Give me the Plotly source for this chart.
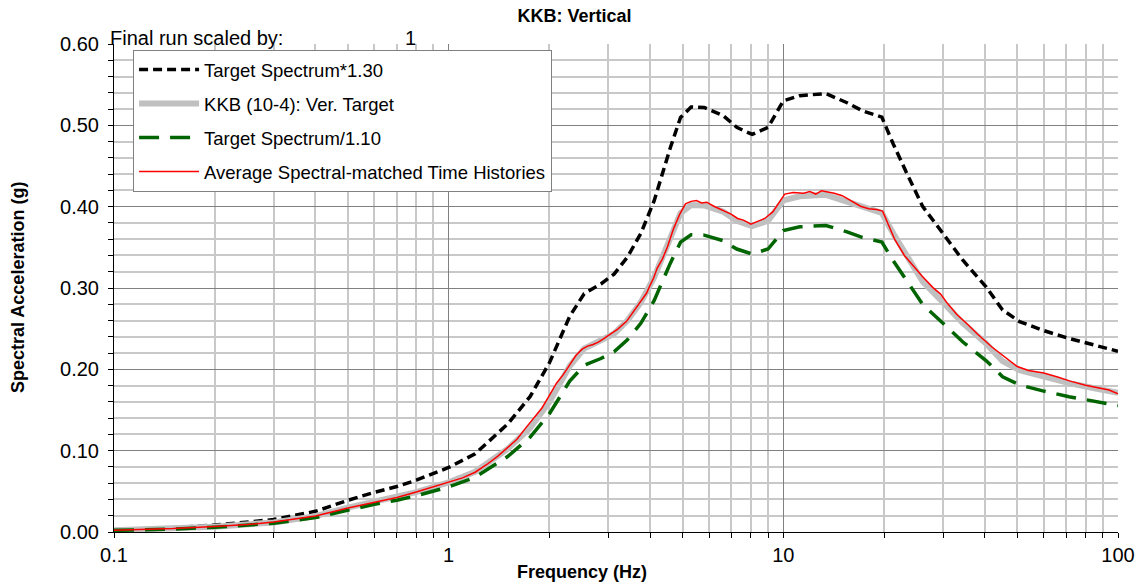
import plotly.graph_objects as go

# ---- data ----
target_freq = [0.1, 0.15, 0.2, 0.3, 0.4, 0.5, 0.6, 0.7, 0.8, 1.0, 1.2, 1.5, 1.75, 2.0, 2.3, 2.54,
               2.85, 3.12, 3.42, 3.75, 4.11, 4.6, 4.93, 5.3, 5.8, 6.6, 7.26, 8.07, 9.0, 10.0,
               11.2, 13.4, 15.5, 17.2, 19.7, 21.3, 23.4, 26.1, 30.0, 34.4, 40.4, 45.2, 50.8,
               59.6, 71.4, 85.8, 100.0]
target_vals = [0.0022, 0.0040, 0.0065, 0.0118, 0.0195, 0.0300, 0.0375, 0.0430, 0.0490, 0.0610,
               0.0740, 0.1020, 0.1280, 0.1600, 0.2040, 0.2254, 0.2346, 0.2438, 0.2600, 0.2823,
               0.3130, 0.3640, 0.3920, 0.4020, 0.4015, 0.3940, 0.3827, 0.3760, 0.3827, 0.4077,
               0.4127, 0.4146, 0.4060, 0.3985, 0.3923, 0.3670, 0.3390, 0.3077, 0.2823, 0.2570,
               0.2315, 0.2100, 0.1990, 0.1908, 0.1830, 0.1765, 0.1710]
upper_vals = [0.0029, 0.0052, 0.0085, 0.0153, 0.0254, 0.0390, 0.0488, 0.0559, 0.0637, 0.0793,
              0.0962, 0.1326, 0.1664, 0.2080, 0.2652, 0.2930, 0.3050, 0.3170, 0.3380, 0.3670,
              0.4070, 0.4730, 0.5096, 0.5226, 0.5220, 0.5122, 0.4975, 0.4888, 0.4975, 0.5300,
              0.5365, 0.5390, 0.5278, 0.5180, 0.5100, 0.4771, 0.4407, 0.4000, 0.3670, 0.3341,
              0.3010, 0.2730, 0.2587, 0.2480, 0.2379, 0.2295, 0.2223]
lower_vals = [0.0020, 0.0036, 0.0059, 0.0107, 0.0177, 0.0273, 0.0341, 0.0391, 0.0445, 0.0555,
              0.0673, 0.0927, 0.1164, 0.1455, 0.1855, 0.2049, 0.2133, 0.2216, 0.2364, 0.2566,
              0.2845, 0.3309, 0.3564, 0.3655, 0.3650, 0.3582, 0.3479, 0.3418, 0.3479, 0.3706,
              0.3752, 0.3769, 0.3691, 0.3623, 0.3566, 0.3336, 0.3082, 0.2797, 0.2566, 0.2336,
              0.2105, 0.1909, 0.1809, 0.1735, 0.1664, 0.1605, 0.1555]

avg_freq = [0.1, 0.15, 0.2, 0.25, 0.3, 0.4, 0.5, 0.6, 0.7, 0.8, 0.9, 1.0, 1.1, 1.2, 1.3, 1.4,
            1.5, 1.6, 1.7, 1.8, 1.9, 2.0, 2.1, 2.2, 2.3, 2.4, 2.5, 2.6, 2.7, 2.8, 2.9, 3.0,
            3.2, 3.4, 3.6, 3.8, 3.9, 4.0, 4.1, 4.2, 4.35, 4.5, 4.7, 4.9, 5.1, 5.3, 5.5, 5.7,
            5.9, 6.2, 6.6, 7.0, 7.3, 7.6, 8.0, 8.3, 8.8, 9.3, 9.7, 10.1, 10.7, 11.5, 12.0,
            12.5, 13.0, 13.5, 14.2, 15.0, 16.0, 17.0, 18.0, 19.0, 19.8, 20.5, 21.5, 23.0,
            24.5, 26.0, 28.0, 29.5, 31.0, 33.0, 35.5, 38.0, 42.0, 46.0, 50.0, 54.0, 60.0,
            66.0, 72.0, 80.0, 88.0, 94.0, 100.0]
avg_vals = [0.0022, 0.0042, 0.0068, 0.0092, 0.0122, 0.0198, 0.0295, 0.0368, 0.0425, 0.0492,
            0.0555, 0.0615, 0.0665, 0.0735, 0.0830, 0.0930, 0.1035, 0.1140, 0.1280, 0.1410,
            0.1525, 0.1680, 0.1830, 0.1935, 0.2050, 0.2170, 0.2245, 0.2285, 0.2305, 0.2335,
            0.2375, 0.2415, 0.2495, 0.2590, 0.2735, 0.2865, 0.2935, 0.3035, 0.3125, 0.3245,
            0.3355, 0.3500, 0.3730, 0.3905, 0.4035, 0.4065, 0.4075, 0.4045, 0.4055, 0.4005,
            0.3955, 0.3905, 0.3855, 0.3835, 0.3785, 0.3815, 0.3855, 0.3935, 0.4055, 0.4155,
            0.4175, 0.4165, 0.4185, 0.4155, 0.4195, 0.4185, 0.4165, 0.4135, 0.4065, 0.4005,
            0.3975, 0.3965, 0.3945, 0.3805, 0.3600, 0.3400, 0.3265, 0.3145, 0.3005, 0.2925,
            0.2805, 0.2675, 0.2555, 0.2435, 0.2275, 0.2145, 0.2035, 0.1985, 0.1955, 0.1905,
            0.1855, 0.1805, 0.1765, 0.1745, 0.1700]

names = ["Target Spectrum*1.30", "KKB (10-4): Ver. Target", "Target Spectrum/1.10",
         "Average Spectral-matched Time Histories"]
title_text = "KKB: Vertical"
scale_label = "Final run scaled by:"
scale_value = "1"

FONT = "Liberation Sans, Arial, sans-serif"

fig = go.Figure()
fig.add_trace(go.Scatter(x=target_freq, y=upper_vals, mode="lines", name=names[0],
                         line=dict(color="black", width=3.5, dash="9px,5px"),
                         legendgroup="a"))
fig.add_trace(go.Scatter(x=target_freq, y=target_vals, mode="lines", name=names[1],
                         line=dict(color="#c0c0c0", width=6), legendgroup="b"))
fig.add_trace(go.Scatter(x=target_freq, y=lower_vals, mode="lines", name=names[2],
                         line=dict(color="#006400", width=3.5, dash="20px,11px"),
                         legendgroup="c"))
fig.add_trace(go.Scatter(x=avg_freq, y=avg_vals, mode="lines", name=names[3],
                         line=dict(color="#ff0000", width=1.5), legendgroup="d"))

fig.update_layout(
    width=1142, height=588,
    margin=dict(l=114, r=24, t=44, b=56, autoexpand=False),
    paper_bgcolor="white", plot_bgcolor="white",
    font=dict(family=FONT, color="black", size=20),
    title=dict(text="<b>" + title_text + "</b>", x=0.503, xref="container", xanchor="center",
               y=1 - 16 / 588, yref="container", yanchor="middle",
               font=dict(size=18, family=FONT, color="black")),
    showlegend=True,
    legend=dict(x=0.019, y=0.988, xanchor="left", yanchor="top",
                bgcolor="white", bordercolor="#808080", borderwidth=1,
                font=dict(size=18.5, family=FONT, color="black"),
                traceorder="grouped", tracegroupgap=7, itemwidth=60),
)

fig.update_xaxes(type="log", range=[-1, 2], tickmode="linear", tick0=0, dtick=1,
                 automargin=False,
                 showline=True, linecolor="black", linewidth=1,
                 ticks="outside", ticklen=5, tickcolor="black",
                 showgrid=True, gridcolor="#808080", gridwidth=1,
                 tickfont=dict(size=20),
                 minor=dict(dtick="D1", showgrid=True, gridcolor="#c8c8c8", gridwidth=2,
                            ticks="outside", ticklen=5, tickcolor="black"),
                 zeroline=False)
fig.update_yaxes(range=[0, 0.6], tickmode="linear", tick0=0, dtick=0.1, tickformat=".2f",
                 automargin=False,
                 showline=True, linecolor="black", linewidth=1,
                 ticks="outside", ticklen=5, tickcolor="black", ticklabelstandoff=5,
                 showgrid=True, gridcolor="#808080", gridwidth=1,
                 tickfont=dict(size=20),
                 minor=dict(dtick=0.02, showgrid=True, gridcolor="#c8c8c8", gridwidth=2,
                            ticks="outside", ticklen=5, tickcolor="black"),
                 zeroline=False)

fig.add_annotation(text="<b>Frequency (Hz)</b>", xref="paper", yref="paper",
                   x=0.466, y=-0.082, xanchor="center", yanchor="middle",
                   showarrow=False, font=dict(size=18, family=FONT))
fig.add_annotation(text="<b>Spectral Acceleration (g)</b>", xref="paper", yref="paper",
                   x=-0.0956, y=0.5, xanchor="center", yanchor="middle", textangle=-90,
                   showarrow=False, font=dict(size=18, family=FONT))
fig.add_annotation(text=scale_label, xref="paper", yref="paper",
                   x=-0.006, y=1.0123, xanchor="left", yanchor="middle",
                   showarrow=False, font=dict(size=20, family=FONT))
fig.add_annotation(text=scale_value, xref="paper", yref="paper",
                   x=0.2955, y=1.0123, xanchor="center", yanchor="middle",
                   showarrow=False, font=dict(size=20, family=FONT))

fig.write_html("out.html")
